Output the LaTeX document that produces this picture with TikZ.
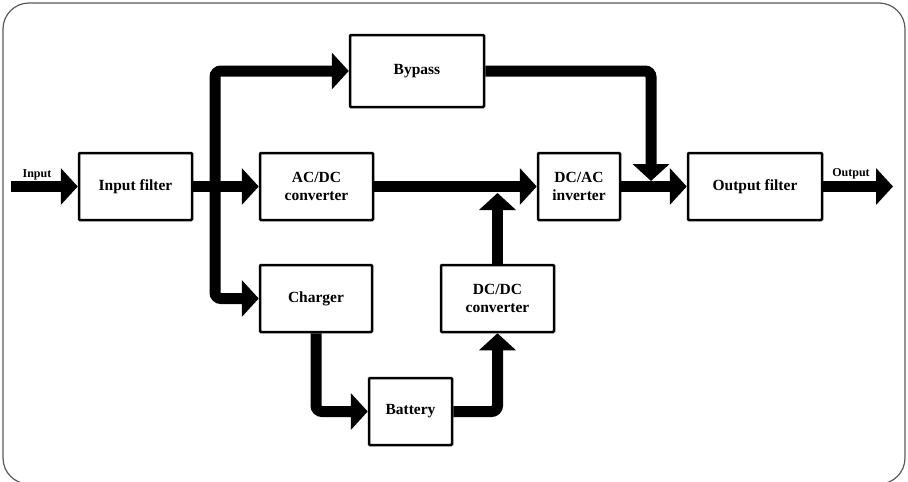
\documentclass[tikz,border=0pt]{standalone}
\usepackage{fontspec}
\setmainfont{Liberation Serif}
\usetikzlibrary{arrows.meta}
\begin{document}
\begin{tikzpicture}[x=1pt,y=-1pt,
  blk/.style={draw=black,line width=2.5pt,rounded corners=1pt,inner sep=0pt,align=center,
    font=\fontsize{15.5}{18}\selectfont\bfseries},
  flow/.style={line width=11pt,rounded corners=6pt,-{Triangle[length=17pt,width=36pt]}},
  flowplain/.style={line width=11pt,rounded corners=6pt},
  lbl/.style={inner sep=0pt,font=\fontsize{12}{14}\selectfont\bfseries}]
\useasboundingbox (0,0) rectangle (908,482);
\clip (0,0) rectangle (908,482);
\draw[draw=black!65,line width=1.2pt,rounded corners=26pt] (3,3) rectangle (905,484);
% blocks
\node[blk,minimum width=113pt,minimum height=67pt] (inf) at (135.5,186.5) {Input filter};
\node[blk,minimum width=113pt,minimum height=67pt] (acdc) at (316.5,186.5) {AC/DC\\converter};
\node[blk,minimum width=134pt,minimum height=72pt] (byp) at (417,71) {Bypass};
\node[blk,minimum width=82pt,minimum height=67pt] (dcac) at (579,186.5) {DC/AC\\inverter};
\node[blk,minimum width=134pt,minimum height=67pt] (outf) at (755,186.5) {Output filter};
\node[blk,minimum width=112pt,minimum height=67pt] (chg) at (316,298.5) {Charger};
\node[blk,minimum width=113pt,minimum height=67pt] (dcdc) at (497.5,298.5) {DC/DC\\converter};
\node[blk,minimum width=83pt,minimum height=67pt] (bat) at (410.5,411.5) {Battery};
% helper coordinates
\coordinate (in) at (11,186.5);
\coordinate (out) at (893,186.5);
\coordinate (bus) at (215,186.5);
\coordinate (m1) at (497.5,193);
\coordinate (m2) at (651,181);
% labels
\node[lbl] (inlbl) at (37,175) {Input};
\node[lbl] (outlbl) at (851,174) {Output};
% flows
\draw[flow] (in) -- (inf.west);
\draw[flow] (inf.east) -- (acdc.west);
\draw[flow] (bus) |- (byp.west);
\draw[flow] (bus) |- (chg.west);
\draw[flow] (acdc.east) -- (dcac.west);
\draw[flow] (dcdc.north) -- (m1);
\draw[flow] (dcac.east) -- (outf.west);
\draw[flow] (byp.east) -| (m2);
\draw[flow] (outf.east) -- (out);
\draw[flow] (chg.south) |- (bat.west);
\draw[flow] (bat.east) -| (dcdc.south);
\end{tikzpicture}
\end{document}
